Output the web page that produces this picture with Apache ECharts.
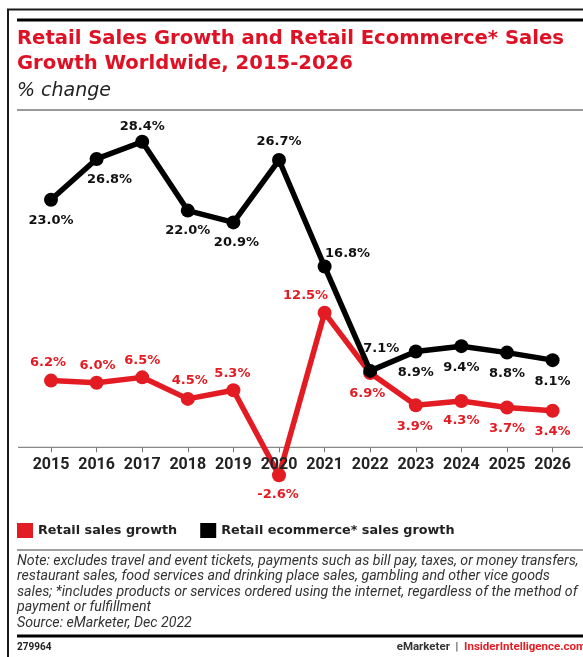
<!DOCTYPE html>
<html>
<head>
<meta charset="utf-8">
<script src="https://cdn.jsdelivr.net/npm/echarts@6/dist/echarts.min.js"></script>
<style>
  html, body { margin: 0; padding: 0; background: #fff; }
  #chart { width: 583px; height: 657px; }
</style>
</head>
<body>
<div id="chart"></div>
<script>
// Years on the category axis
const years = ['2015', '2016', '2017', '2018', '2019', '2020', '2021', '2022', '2023', '2024', '2025', '2026'];
// Retail sales growth, % change
const retailGrowth = [6.2, 6.0, 6.5, 4.5, 5.3, -2.6, 12.5, 6.9, 3.9, 4.3, 3.7, 3.4];
// Retail ecommerce sales growth, % change
const ecommerceGrowth = [23.0, 26.8, 28.4, 22.0, 20.9, 26.7, 16.8, 7.1, 8.9, 9.4, 8.8, 8.1];

// Value-label placement: shift of each label's centre from its point, in px
const retailLabelShift = [[-3, -18], [1, -17], [0, -17], [2, -18], [-1, -17], [-1, 19], [-19, -17], [-3, 21], [-1, 21], [0, 20], [0, 21], [0, 21]];
const ecommerceLabelShift = [[0, 21], [13, 21], [0, -15], [0, 20], [3, 20], [0, -18], [23, -13], [11, -22], [0, 21], [0, 21], [0, 21], [0, 21]];

const RED = '#E31B23';
const TITLE_RED = '#DF1125';
const SANS = 'Roboto, "Noto Sans", sans-serif';
const WIDE = '"DejaVu Sans", Roboto, sans-serif';

const pct = p => p.value.toFixed(1) + '%';

const retailData = retailGrowth.map((v, i) => ({
  value: v,
  label: { position: 'inside', offset: retailLabelShift[i] }
}));
const ecommerceData = ecommerceGrowth.map((v, i) => ({
  value: v,
  label: { position: 'inside', offset: ecommerceLabelShift[i] }
}));

const chart = echarts.init(document.getElementById('chart'), null, { renderer: 'canvas' });

const noteLines = [
  'Note: excludes travel and event tickets, payments such as bill pay, taxes, or money transfers,',
  'restaurant sales, food services and drinking place sales, gambling and other vice goods',
  'sales; *includes products or services ordered using the internet, regardless of the method of',
  'payment or fulfillment',
  'Source: eMarketer, Dec 2022'
];

const graphics = [
  // outer frame
  { type: 'rect', shape: { x: 8, y: 9.5, width: 600, height: 700 }, style: { fill: 'none', stroke: '#1a1a1a', lineWidth: 2 }, silent: true },
  // heading rules
  { type: 'rect', shape: { x: 17, y: 18.5, width: 570, height: 3 }, style: { fill: '#000' }, silent: true },
  { type: 'rect', shape: { x: 17, y: 109, width: 570, height: 2 }, style: { fill: '#9a9a9a' }, silent: true },
  // title and unit
  { type: 'text', left: 17, top: 29, style: { text: 'Retail Sales Growth and Retail Ecommerce* Sales', fill: TITLE_RED, font: 'bold 19.6px ' + WIDE } },
  { type: 'text', left: 17, top: 54, style: { text: 'Growth Worldwide, 2015-2026', fill: TITLE_RED, font: 'bold 19.6px ' + WIDE } },
  { type: 'text', left: 17, top: 82, style: { text: '% change', fill: '#222', font: 'oblique 19px ' + WIDE } },
  // footer rules
  { type: 'rect', shape: { x: 17, y: 549, width: 570, height: 2 }, style: { fill: '#a0a0a0' }, silent: true },
  { type: 'rect', shape: { x: 17, y: 634.5, width: 570, height: 3 }, style: { fill: '#000' }, silent: true },
  { type: 'text', left: 17, top: 642, style: { text: '279964', fill: '#222', font: 'bold 10px ' + SANS } },
  {
    type: 'text', right: -3, top: 641,
    style: {
      text: '{a|eMarketer}{s|  |  }{b|InsiderIntelligence.com}',
      rich: {
        a: { fill: '#333', font: 'bold 11.5px ' + SANS },
        s: { fill: '#333', font: '11.5px ' + SANS },
        b: { fill: RED, font: 'bold 11.5px ' + SANS }
      }
    }
  }
];
noteLines.forEach((t, i) => {
  graphics.push({ type: 'text', left: 17, top: 554 + i * 15.6, style: { text: t, fill: '#333', font: 'italic 14.2px ' + SANS } });
});

chart.setOption({
  animation: false,
  backgroundColor: '#fff',
  graphic: graphics,
  legend: {
    left: 17,
    top: 523,
    padding: 0,
    icon: 'rect',
    itemWidth: 16,
    itemHeight: 15,
    itemGap: 23,
    textStyle: { fontFamily: WIDE, fontSize: 12.8, fontWeight: 'bold', color: '#222' },
    data: [
      { name: 'Retail sales growth', itemStyle: { color: RED } },
      { name: 'Retail ecommerce* sales growth', itemStyle: { color: '#000' } }
    ]
  },
  grid: { left: 28.2, right: 7.6, top: 124.5, bottom: 209.7 },
  xAxis: {
    type: 'category',
    data: years,
    boundaryGap: true,
    z: 5,
    axisLine: { show: false },
    axisTick: { show: true, alignWithLabel: true, length: 5, lineStyle: { color: '#777' } },
    axisLabel: {
      interval: 0,
      margin: 10,
      fontFamily: SANS, fontSize: 16, fontWeight: 'bold', color: '#222'
    }
  },
  yAxis: {
    type: 'value',
    min: 0,
    max: 30,
    show: false,
    splitLine: { show: false }
  },
  series: [
    {
      name: 'Retail sales growth',
      type: 'line',
      data: retailData,
      clip: false,
      color: RED,
      symbol: 'circle',
      symbolSize: 14,
      lineStyle: { width: 5.5, color: RED },
      itemStyle: { color: RED },
      label: { show: true, formatter: pct, fontFamily: WIDE, fontSize: 13, fontWeight: 'bold', color: RED },
      z: 2
    },
    {
      name: 'Retail ecommerce* sales growth',
      type: 'line',
      data: ecommerceData,
      clip: false,
      color: '#000',
      symbol: 'circle',
      symbolSize: 14,
      lineStyle: { width: 5.5, color: '#000' },
      itemStyle: { color: '#000' },
      label: { show: true, formatter: pct, fontFamily: WIDE, fontSize: 13, fontWeight: 'bold', color: '#111' },
      z: 3
    }
  ]
});

// Baseline at zero, running the full width of the plot panel
const zeroY = chart.convertToPixel({ yAxisIndex: 0 }, 0);
graphics.push({
  type: 'line', z: 1, silent: true,
  shape: { x1: 18, y1: zeroY, x2: 583, y2: zeroY },
  style: { stroke: '#888', lineWidth: 1.2 }
});
chart.setOption({ graphic: graphics });
</script>
</body>
</html>
